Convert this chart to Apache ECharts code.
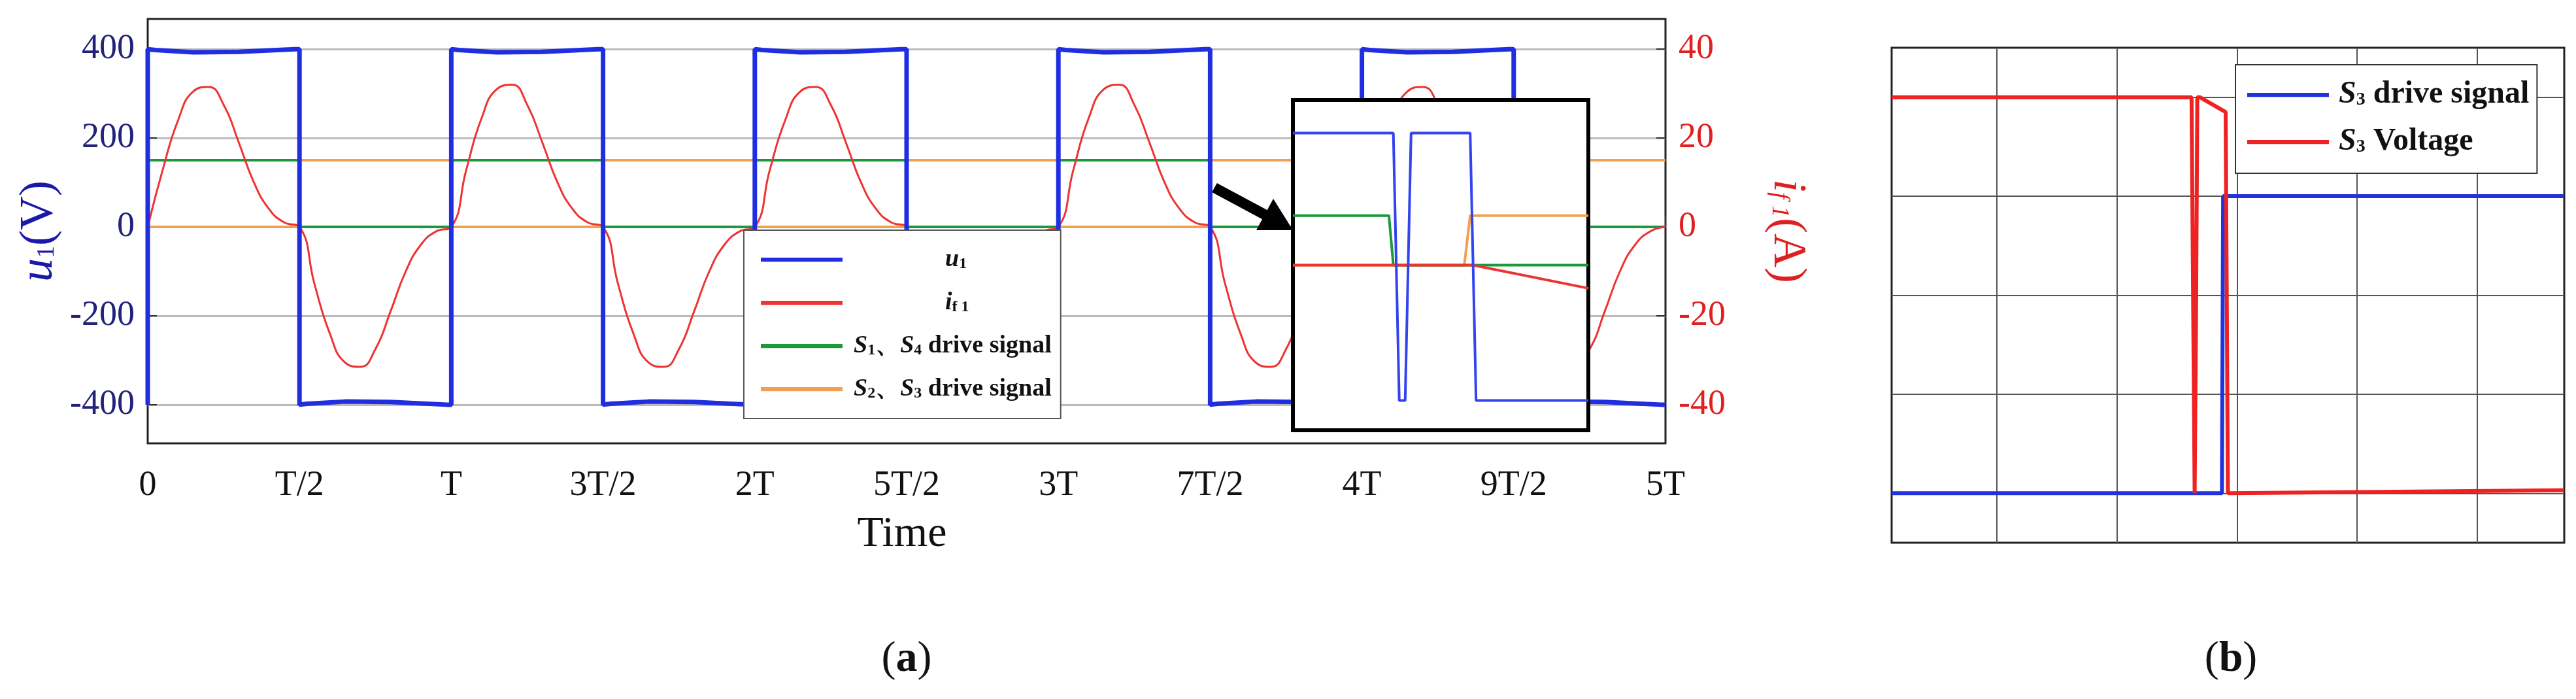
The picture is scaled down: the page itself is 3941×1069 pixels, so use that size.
<!DOCTYPE html>
<html><head><meta charset="utf-8">
<script src="https://cdn.jsdelivr.net/npm/echarts@6/dist/echarts.min.js"></script>
<style>html,body{margin:0;padding:0;background:#fff}#c{width:3941px;height:1069px}</style>
</head><body><div id="c"></div>
<script>
// ---- Chart (a): x in units of T/2 ----
const xTickLabels = ['0','T/2','T','3T/2','2T','5T/2','3T','7T/2','4T','9T/2','5T'];
const u1Points = [
 [0,-400],[0,400],[0.05,398],[0.3,393],[0.6,394],[0.97,400],[1,400],
 [1,-400],[1.05,-398],[1.3,-393],[1.6,-394],[1.97,-400],[2,-400],
 [2,400],[2.05,398],[2.3,393],[2.6,394],[2.97,400],[3,400],
 [3,-400],[3.05,-398],[3.3,-393],[3.6,-394],[3.97,-400],[4,-400],
 [4,400],[4.05,398],[4.3,393],[4.6,394],[4.97,400],[5,400],
 [5,-400],[5.05,-398],[5.3,-393],[5.6,-394],[5.97,-400],[6,-400],
 [6,400],[6.05,398],[6.3,393],[6.6,394],[6.97,400],[7,400],
 [7,-400],[7.05,-398],[7.3,-393],[7.6,-394],[7.97,-400],[8,-400],
 [8,400],[8.05,398],[8.3,393],[8.6,394],[8.97,400],[9,400],
 [9,-400],[9.05,-398],[9.3,-393],[9.6,-394],[9.97,-400],[10,-400]
];
// if1 samples every 0.1 half-period, 0..10
const if1Values = [
 0,13,24,30.5,31.5,27.5,19,10,4,1,
 0,-13,-24,-30.5,-31.5,-27.5,-19,-10,-4,-1,
 0,13,24.5,31,32,27.5,19,10,4,1,
 0,-13,-24,-30.5,-31.5,-27.5,-19,-10,-4,-1,
 0,13,24,30.5,31.5,27.5,19,10,4,1,
 0,-13,-24,-30.5,-31.5,-27.5,-19,-10,-4,-1,
 0,13,24.5,31,32,27.5,19,10,4,1,
 0,-13,-24,-30.5,-31.5,-27.5,-19,-10,-4,-1,
 0,13,24,30.5,31.5,27.5,19,10,4,1,
 0,-13,-24,-30,-31,-27.5,-19,-10,-4,-1,
 0
];
const s14Points = [[0,150],[1,150],[1,0],[2,0],[2,150],[3,150],[3,0],[4,0],[4,150],[5,150],[5,0],[6,0],[6,150],[7,150],[7,0],[10,0]];
const s23Points = [[0,0],[1,0],[1,150],[2,150],[2,0],[3,0],[3,150],[4,150],[4,0],[5,0],[5,150],[6,150],[6,0],[7,0],[7,150],[10,150]];
// inset (zoom) values, arbitrary 0..100 units
const insetU1 = [[0,90],[34,90],[36,9],[38,9],[40,90],[60,90],[62,9],[100,9]];
const insetS14 = [[0,65],[32.5,65],[34,50],[100,50]];
const insetS23 = [[0,50],[58,50],[60,65],[100,65]];
const insetIf1 = [[0,50],[61,50],[100,43]];
// ---- Chart (b) ----
const s3Drive = [[0,0],[2.75,0],[2.76,3],[5.6,3]];
const s3Voltage = [[0,4],[2.497,4],[2.523,0],[2.535,1.9],[2.545,4],[2.566,4],[2.781,3.85],[2.80,0],[2.813,0],[5.6,0.03]];

const serif = 'Liberation Serif';
const legRich = {
 i:{fontFamily:serif,fontStyle:'italic',fontWeight:'bold',fontSize:38},
 s:{fontFamily:serif,fontSize:24,padding:[14,0,0,0],fontWeight:'bold'},
 n:{fontFamily:serif,fontWeight:'bold',fontSize:38},
 w:{width:140}
};
const legNames = {
 'u1':'{w|}{i|u}{s|1}',
 'if1':'{w|}{i|i}{s|f 1}',
 'S14':'{i|S}{s|1}{n|、}{i|S}{s|4}{n| drive signal}',
 'S23':'{i|S}{s|2}{n|、}{i|S}{s|3}{n| drive signal}',
 'S3d':'{i|S}{s|3}{n| drive signal}',
 'S3v':'{i|S}{s|3}{n| Voltage}'
};
const legRichB = {i:{fontFamily:serif,fontStyle:'italic',fontWeight:'bold',fontSize:48},s:{fontFamily:serif,fontSize:28,padding:[16,0,0,0],fontWeight:'bold'},n:{fontFamily:serif,fontWeight:'bold',fontSize:48}};

const chart = echarts.init(document.getElementById('c'));
const line = (name,data,color,width,xi,yi,z,smooth) => ({type:'line',name,data,xAxisIndex:xi,yAxisIndex:yi,showSymbol:false,symbol:'none',smooth:smooth||false,lineStyle:{color,width},itemStyle:{color},z:z||2,animation:false});

chart.setOption({
 animation:false,
 grid:[
  {left:226,top:29,width:2322,height:649,show:true,borderColor:'#222',borderWidth:3,backgroundColor:'#fff'},
  {left:1978,top:153,width:452,height:505,show:true,borderColor:'#000',borderWidth:6,backgroundColor:'#fff',z:10},
  {left:2894,top:73,width:1029,height:757,show:true,borderColor:'#222',borderWidth:3,backgroundColor:'#fff'}
 ],
 xAxis:[
  {gridIndex:0,type:'value',min:0,max:10,interval:1,axisLine:{show:false},splitLine:{show:false},
   axisTick:{inside:true,length:18,lineStyle:{color:'#333',width:2}},
   axisLabel:{formatter:v=>xTickLabels[Math.round(v)],fontFamily:serif,fontSize:54,color:'#111',margin:38}},
  {gridIndex:1,type:'value',min:0,max:100,axisLine:{show:false},
   splitLine:{show:true,lineStyle:{color:'#999',width:2}},
   axisTick:{show:false,customValues:[4,40,77]},axisLabel:{show:false,customValues:[4,40,77]}},
  {gridIndex:2,type:'value',min:0,max:5.6,axisLine:{show:false},
   axisTick:{show:false,customValues:[0.875,1.875,2.875,3.875,4.875]},
   axisLabel:{show:false,customValues:[0.875,1.875,2.875,3.875,4.875]},
   splitLine:{show:true,lineStyle:{color:'#555',width:2}}}
 ],
 yAxis:[
  {gridIndex:0,type:'value',min:-487,max:468,axisLine:{show:false},
   axisTick:{inside:true,length:14,lineStyle:{color:'#333',width:2},customValues:[-400,-200,0,200,400]},
   axisLabel:{customValues:[-400,-200,0,200,400],fontFamily:serif,fontSize:54,color:'#22227a',margin:20},
   splitLine:{show:true,lineStyle:{color:'#bbb',width:3}},
   name:'{i|u}{s|1}{n|(V)}',nameLocation:'middle',nameGap:130,nameRotate:90,
   nameTextStyle:{rich:{i:{fontFamily:serif,fontStyle:'italic',fontSize:72,color:'#1a1aa8'},s:{fontFamily:serif,fontSize:38,color:'#1a1aa8',padding:[24,0,0,0]},n:{fontFamily:serif,fontSize:72,color:'#1a1aa8'}}}},
  {gridIndex:0,type:'value',min:-48.7,max:46.8,position:'right',axisLine:{show:false},
   axisTick:{inside:true,length:14,lineStyle:{color:'#333',width:2},customValues:[-40,-20,0,20,40]},
   axisLabel:{customValues:[-40,-20,0,20,40],fontFamily:serif,fontSize:54,color:'#e02020',margin:20},
   splitLine:{show:false},
   name:'{i|i}{s|f 1}{n|(A)}',nameLocation:'middle',nameGap:150,nameRotate:-90,
   nameTextStyle:{rich:{i:{fontFamily:serif,fontStyle:'italic',fontSize:72,color:'#e02020'},s:{fontFamily:serif,fontStyle:'italic',fontSize:38,color:'#e02020',padding:[24,0,0,0]},n:{fontFamily:serif,fontSize:72,color:'#e02020'}}}},
  {gridIndex:1,type:'value',min:0,max:100,axisLine:{show:false},
   axisTick:{show:false,customValues:[10,30,50,70,90]},axisLabel:{show:false,customValues:[10,30,50,70,90]},
   splitLine:{show:true,lineStyle:{color:'#999',width:2}}},
  {gridIndex:2,type:'value',min:-0.5,max:4.5,axisLine:{show:false},
   axisTick:{show:false,customValues:[0,1,2,3,4]},axisLabel:{show:false,customValues:[0,1,2,3,4]},
   splitLine:{show:true,lineStyle:{color:'#555',width:2}}}
 ],
 legend:[
  {data:['u1','if1','S14','S23'],orient:'vertical',left:1138,top:352,
   backgroundColor:'#fff',borderColor:'#555',borderWidth:2,padding:[26,14,26,26],itemGap:28,
   itemWidth:125,itemHeight:36,z:20,icon:'path://M0,15 L120,15 L120,21 L0,21 Z',
   formatter:n=>legNames[n],textStyle:{rich:legRich,color:'#111',padding:[0,0,0,12]}},
  {data:['S3d','S3v'],orient:'vertical',left:3420,top:99,backgroundColor:'#fff',borderColor:'#333',borderWidth:2,
   padding:[22,12,24,18],itemGap:24,itemWidth:125,itemHeight:44,icon:'path://M0,19 L120,19 L120,25 L0,25 Z',
   formatter:n=>legNames[n],textStyle:{rich:legRichB,color:'#111',padding:[0,0,0,10]}}
 ],
 series:[
  line('S23',s23Points,'#f0a050',4,0,0,2),
  line('S14',s14Points,'#1a9a3a',4,0,0,3),
  line('if1',if1Values.map((v,k)=>[k*0.1,v]),'#ee3333',3,0,1,4,0.5),
  line('u1',u1Points,'#1f2ee0',7,0,0,5),
  line('in_s23',insetS23,'#f0a050',4,1,2,12),
  line('in_s14',insetS14,'#1a9a3a',4,1,2,13),
  line('in_if1',insetIf1,'#ee3333',4,1,2,14),
  line('in_u1',insetU1,'#3344ee',4,1,2,15),
  line('S3d',s3Drive,'#2233dd',6,2,3,2),
  line('S3v',s3Voltage,'#ee2222',6,2,3,3)
 ],
 graphic:[
  {type:'line',shape:{x1:1858,y1:287,x2:1940,y2:331},style:{stroke:'#000',lineWidth:16},z:30},
  {type:'polygon',shape:{points:[[1978,352],[1922,352],[1948,304]]},style:{fill:'#000'},z:30},
  {type:'text',style:{text:'Time',x:1380,y:818,fontFamily:serif,fontSize:66,fill:'#111',align:'center',verticalAlign:'middle'}},
  {type:'text',style:{text:'({b|a})',x:1387,y:1009,fontFamily:serif,fontSize:66,fill:'#111',align:'center',verticalAlign:'middle',rich:{b:{fontFamily:serif,fontSize:66,fontWeight:'bold'}}}},
  {type:'text',style:{text:'({b|b})',x:3413,y:1009,fontFamily:serif,fontSize:66,fill:'#111',align:'center',verticalAlign:'middle',rich:{b:{fontFamily:serif,fontSize:66,fontWeight:'bold'}}}}
 ]
});
</script></body></html>
